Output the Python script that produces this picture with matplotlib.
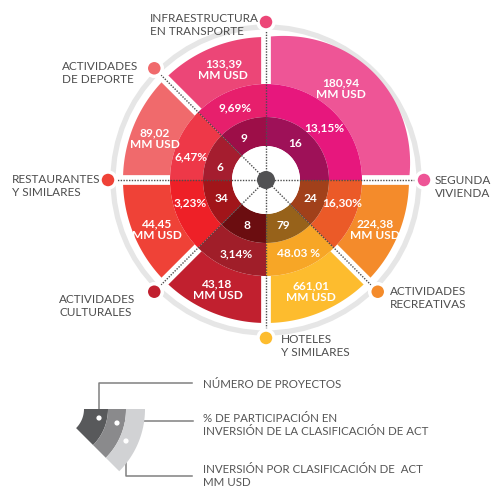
import numpy as np, matplotlib; matplotlib.use('Agg')
import matplotlib.pyplot as plt
from matplotlib.patches import Circle

# data (sectors counterclockwise from east)
categorias=['SEGUNDA\nVIVIENDA','INFRAESTRUCTURA\nEN TRANSPORTE','ACTIVIDADES\nDE DEPORTE',
    'RESTAURANTES\nY SIMILARES','ACTIVIDADES\nCULTURALES','HOTELES\nY SIMILARES','ACTIVIDADES\nRECREATIVAS']
inversion=['180,94','133,39','89,02','44,45','43,18','661,01','224,38']
participacion=['13,15%','9,69%','6,47%','3,23%','3,14%','48.03 %','16,30%']
proyectos=[16,9,6,34,8,79,24]
spans=[90,45,45,45,45,45,45]

# colours per ring
c_out=['#EE5596','#EC4677','#F06A6C','#EF4237','#C1202F','#FDBC2E','#F48B2B']
c_mid=['#E7177D','#E71F6C','#EE3848','#EE2027','#A01E29','#F7A626','#EB5A28']
c_in=['#9E1158','#9D0E48','#A51D2F','#A1151A','#6B0D10','#97621A','#A1401A']

# label placement (pixels / degrees)
lab_pos=[(435,187),(150,25),(62,73),(12,186),(59,306),(281,346),(390,298)]
ang_out=[51,111,159,204,246,292,336]
ang_mid=[42,113,162,196,248,294,344]
ang_in=[52,118,164,202,247,291,339]

W,H=492,489
cx,cy=266,181
R0,R1,R2,R3=34,63,96,143
fig=plt.figure(figsize=(W/100,H/100),dpi=100)
ax=fig.add_axes([0,0,1,1]); ax.set_xlim(0,W); ax.set_ylim(H,0); ax.axis('off')
plt.rcParams['font.family']=['Lato','DejaVu Sans']

def pt(a,r): a=np.radians(a); return cx+r*np.cos(a), cy-r*np.sin(a)
def sector(a1,a2,r0,r1,bulge=0,n=90):
    t=np.linspace(0,1,n); a=np.radians(a1+(a2-a1)*t); ro=r1+bulge*np.sin(np.pi*t)
    xo=cx+ro*np.cos(a); yo=cy-ro*np.sin(a)
    xi=cx+r0*np.cos(a[::-1]); yi=cy-r0*np.sin(a[::-1])
    return np.r_[xo,xi],np.r_[yo,yi]

starts=np.r_[0,np.cumsum(spans)[:-1]]
ax.add_patch(Circle((cx,cy),153,fill=False,ec='#E6E6E6',lw=3.8,zorder=1))
for i,a1 in enumerate(starts):
    a2=a1+spans[i]
    x,y=sector(a1,a2,R2,R3,bulge=9 if spans[i]>45 else 0); ax.fill(x,y,color=c_out[i],lw=0,zorder=2)
for a1 in starts:
    (x1,y1),(x2,y2)=pt(a1,R2-2),pt(a1,150)
    ax.plot([x1,x2],[y1,y2],color='white',lw=7,solid_capstyle='butt',zorder=3)
for i,a1 in enumerate(starts):
    a2=a1+spans[i]
    x,y=sector(a1,a2,R1,R2); ax.fill(x,y,color=c_mid[i],lw=0,zorder=4)
    x,y=sector(a1,a2,R0,R1); ax.fill(x,y,color=c_in[i],lw=0,zorder=4)
ax.add_patch(Circle((cx,cy),R0,color='white',lw=0,zorder=5))
tk=dict(ha='center',va='center',fontsize=8.6,color='white',fontweight='bold',zorder=8)
for i,a1 in enumerate(starts):
    x2,y2=pt(a1,158)
    ax.plot([cx,x2],[cy,y2],color='#4D4D4D',lw=1.0,ls=(0,(1,1)),zorder=6)
    ax.add_patch(Circle((x2,y2),8,fc=c_out[i],ec='white',lw=2.5,zorder=7))
    lx,ly=lab_pos[i]
    ax.text(lx,ly,categorias[i],ha='left',va='center',fontsize=8.5,color='#4D4D4D',linespacing=1.15,zorder=8)
    x,y=pt(ang_out[i],119); ax.text(x,y,inversion[i]+'\nMM USD',linespacing=1.05,**tk)
    x,y=pt(ang_mid[i],79); ax.text(x,y,participacion[i],**tk)
    x,y=pt(ang_in[i],48); ax.text(x,y,str(proyectos[i]),**tk)
ax.add_patch(Circle((cx,cy),9,color='#515153',lw=0,zorder=7))

# legend glyph
lx0,ly0=57,410
leg_cols=['#58595B','#8A8A8C','#D1D2D4']
leg_r=[27,51,69,88]
for k in range(3):
    t=np.linspace(0,1,40); a=np.radians(-45*t)
    xo=lx0+leg_r[k+1]*np.cos(a); yo=ly0-leg_r[k+1]*np.sin(a)
    xi=lx0+leg_r[k]*np.cos(a[::-1]); yi=ly0-leg_r[k]*np.sin(a[::-1])
    ax.fill(np.r_[xo,xi],np.r_[yo,yi],color=leg_cols[k],lw=0,zorder=2)
lg_dots=[(99,419),(117,424),(126,442)]
for (x,y) in lg_dots: ax.add_patch(Circle((x,y),2.6,color='white',lw=0,zorder=3))
lc='#808080'
ax.plot([99,99,192],[419,384,384],color=lc,lw=1.1,zorder=1)
ax.plot([117,193],[422,422],color=lc,lw=1.1,zorder=1)
ax.plot([126,126,192],[442,477,477],color=lc,lw=1.1,zorder=1)
leg_txt=['NÚMERO DE PROYECTOS','% DE PARTICIPACIÓN EN\nINVERSIÓN DE LA CLASIFICACIÓN DE ACT','INVERSIÓN POR CLASIFICACIÓN DE  ACT\nMM USD']
for s,y in zip(leg_txt,[384,425,476]):
    ax.text(203,y,s,ha='left',va='center',fontsize=8.3,color='#555555',linespacing=1.15)

fig.savefig('out.png',dpi=100)
